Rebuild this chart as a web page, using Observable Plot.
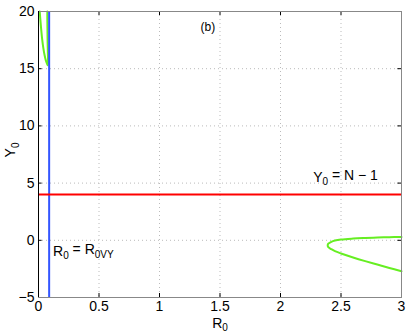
<!DOCTYPE html>
<html><head><meta charset="utf-8">
<script src="https://cdn.jsdelivr.net/npm/d3@7"></script>
<script src="https://cdn.jsdelivr.net/npm/@observablehq/plot@0.6"></script>
<style>body{margin:0;background:#fff}svg{font-family:"Liberation Sans",Arial,sans-serif}</style>
</head><body><div id="chart"></div>
<script>
const xTicks = [0, 0.5, 1, 1.5, 2, 2.5, 3];
const yTicks = [-5, 0, 5, 10, 15, 20];
const R0VY = 0.088;
const Ncrit = 4;
// green curve, top-left branch
const topCurveR = [0.01, 0.02, 0.03, 0.04, 0.05, 0.06, 0.07, 0.077, 0.079, 0.077, 0.075, 0.074, 0.073, 0.073];
const topCurveY = [20, 18.7, 17.6, 16.8, 16.2, 15.75, 15.45, 15.3, 15.6, 16.5, 17.5, 18.5, 19.3, 20];
// green curve, bottom-right branch
const botCurveR = [3, 2.9, 2.8, 2.7, 2.6, 2.5, 2.45, 2.42, 2.395, 2.39, 2.395, 2.42, 2.45, 2.5, 2.6, 2.7, 2.8, 2.9, 3];
const botCurveY = [0.29, 0.27, 0.24, 0.2, 0.15, 0.07, -0.02, -0.13, -0.3, -0.45, -0.6, -0.78, -0.95, -1.15, -1.5, -1.82, -2.12, -2.42, -2.7];

const topData = topCurveR.map((r, i) => ({r, y: topCurveY[i]}));
const botData = botCurveR.map((r, i) => ({r, y: botCurveY[i]}));

const fmt = d => (d < 0 ? "\u2212" + Math.abs(d) : String(d));

const plot = Plot.plot({
  width: 409, height: 336,
  marginLeft: 38, marginRight: 8, marginTop: 11, marginBottom: 39,
  x: {domain: [0, 3], ticks: xTicks, tickFormat: fmt, label: null},
  y: {domain: [-5, 20], ticks: yTicks, tickFormat: fmt, label: null},
  style: {fontSize: "14px", color: "#000"},
  marks: [
    Plot.gridX(xTicks.slice(1, -1), {stroke: "#bbb", strokeOpacity: 1, strokeDasharray: "1,3"}),
    Plot.gridY(yTicks.slice(1, -1), {stroke: "#bbb", strokeOpacity: 1, strokeDasharray: "1,3"}),
    Plot.axisX(xTicks, {tickSize: 0, tickPadding: 4, fontSize: 14, tickFormat: fmt}),
    Plot.axisY(yTicks, {tickSize: 0, tickPadding: 4, fontSize: 14, tickFormat: fmt}),
    Plot.ruleX(xTicks, {y1: -5, y2: -4.65, stroke: "#000"}),
    Plot.ruleX(xTicks, {y1: 20, y2: 19.65, stroke: "#000"}),
    Plot.ruleY(yTicks, {x1: 0, x2: 0.03, stroke: "#000"}),
    Plot.ruleY(yTicks, {x1: 3, x2: 2.97, stroke: "#000"}),
    Plot.line(topData, {x: "r", y: "y", stroke: "#66ee22", strokeWidth: 2, curve: "catmull-rom"}),
    Plot.line(botData, {x: "r", y: "y", stroke: "#66ee22", strokeWidth: 2, curve: "catmull-rom"}),
    Plot.ruleX([R0VY], {stroke: "#3355ff", strokeWidth: 2}),
    Plot.ruleY([Ncrit], {stroke: "#ff0000", strokeWidth: 2}),
    Plot.frame({stroke: "#888"}),
    Plot.ruleX([0], {stroke: "#000"}),
    Plot.text(["(b)"], {x: 1.4, y: 18.6, fontSize: 12, textAnchor: "middle", fill: "#000"}),
    Plot.text(["Y0lbl"], {x: 2.27, y: 5.5, fontSize: 14, textAnchor: "start", fill: "#000", className: "lblY"}),
    Plot.text(["R0lbl"], {x: 0.12, y: -0.95, fontSize: 14, textAnchor: "start", fill: "#000", className: "lblR"})
  ]
});
const svg = d3.select(plot);
function sub(sel, parts) {
  const t = sel.select("text");
  t.text(null);
  parts.forEach(([s, isSub]) => {
    const ts = t.append("tspan").text(s);
    if (isSub) ts.attr("dy", "0.35em").attr("font-size", "10px");
    else ts.attr("dy", t.selectAll("tspan").size() > 1 ? "-0.35em" : null);
  });
}
sub(svg.select(".lblY"), [["Y", false], ["0", true], [" = N \u2212 1", false]]);
sub(svg.select(".lblR"), [["R", false], ["0", true], [" = R", false], ["0VY", true]]);
// axis labels
const xl = svg.append("text").attr("x", 220).attr("y", 328).attr("text-anchor", "middle").attr("font-size", 14);
xl.append("tspan").text("R");
xl.append("tspan").text("0").attr("dy", "0.3em").attr("font-size", "10px");
const yl = svg.append("text").attr("transform", "translate(15,150) rotate(-90)").attr("text-anchor", "middle").attr("font-size", 14);
yl.append("tspan").text("Y");
yl.append("tspan").text("0").attr("dy", "0.35em").attr("font-size", "10px");
document.getElementById("chart").append(plot);
</script></body></html>
